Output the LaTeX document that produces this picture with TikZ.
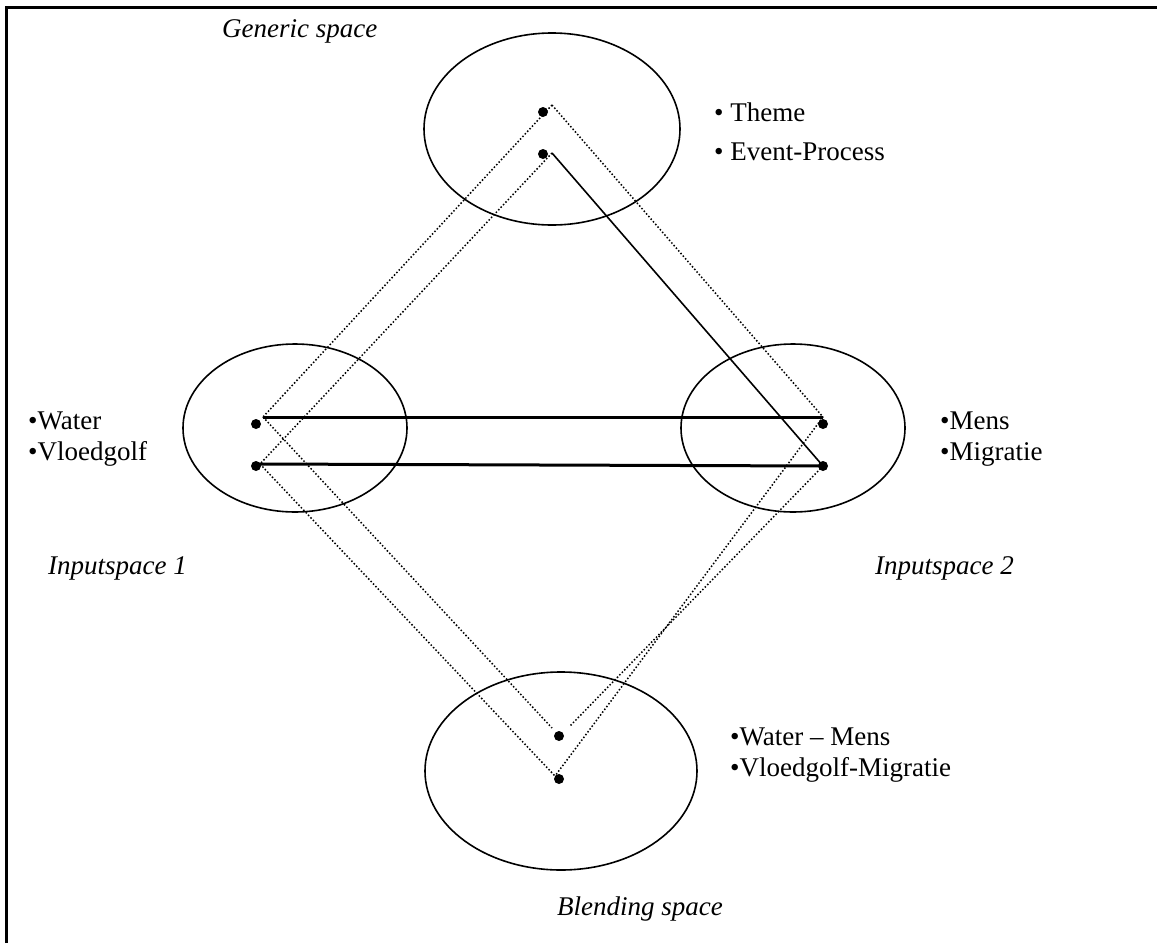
\documentclass[tikz,border=0pt]{standalone}
\usepackage{fontspec}
\setmainfont{Liberation Serif}
\usetikzlibrary{shapes.geometric}

\tikzset{
  space/.style={draw, ellipse, line width=1.6pt, inner sep=0pt},
  pt/.style={circle, fill, inner sep=0pt, minimum size=10pt},
  link/.style={line width=1.5pt, dash pattern=on 1.5pt off 2pt},
  map/.style={line width=3pt},
  txt/.style={anchor=base west, inner sep=0pt, font=\fontsize{27}{31}\selectfont},
}

\begin{document}
\begin{tikzpicture}[x=1pt, y=-1pt]
\useasboundingbox (0,0) rectangle (1157,943);
\draw[line width=3pt] (6,943) -- (6,7) -- (1157,7);

% spaces
\node[space, minimum width=256, minimum height=192] (generic) at (552,129) {};
\node[space, minimum width=224, minimum height=168] (input1) at (295,428) {};
\node[space, minimum width=224, minimum height=168] (input2) at (793,428) {};
\node[space, minimum width=272, minimum height=198] (blend) at (561,771) {};

% elements
\node[pt] (g1) at (543,112) {};
\node[pt] (g2) at (543,154) {};
\node[pt] (w1) at (256,424) {};
\node[pt] (w2) at (256,466) {};
\node[pt] (m1) at (823,424) {};
\node[pt] (m2) at (823,466) {};
\node[pt] (b1) at (559,736) {};
\node[pt] (b2) at (559,779) {};

\coordinate (tA) at (552,105);
\coordinate (tB) at (552,153);
\coordinate (lA) at (263,417);
\coordinate (lB) at (260,464);
\coordinate (rA) at (823,417);
\coordinate (rB) at (823,466);
\coordinate (bA) at (552,728);
\coordinate (bB) at (555,776);
\coordinate (bC) at (570,726);

\foreach \i/\j in {tA/lA, tB/lB, lA/bA, lB/bB, tA/rA, rA/bB, rB/bC}
    \draw[link] (\i) -- (\j);
\draw[map] (lA) -- (rA);
\draw[map] (lB) -- (rB);
\draw[line width=1.6pt] (tB) -- (rB);

% labels
\node[txt] (gen) at (222,37) {\itshape Generic space};
\node[txt] (gen1) at (714,121) {\textbullet\ Theme};
\node[txt] (gen2) at (714,160) {\textbullet\ Event-Process};
\node[txt] (in1a) at (28,429) {\textbullet Water};
\node[txt] (in1b) at (28,460) {\textbullet Vloedgolf};
\node[txt] (in2a) at (940,429) {\textbullet Mens};
\node[txt] (in2b) at (940,460) {\textbullet Migratie};
\node[txt] (in1) at (48,574) {\itshape Inputspace 1};
\node[txt] (in2) at (875,574) {\itshape Inputspace 2};
\node[txt] (bl1) at (730,745) {\textbullet Water -- Mens};
\node[txt] (bl2) at (730,776) {\textbullet Vloedgolf-Migratie};
\node[txt] (bl) at (557,915) {\itshape Blending space};
%
\end{tikzpicture}
\end{document}
